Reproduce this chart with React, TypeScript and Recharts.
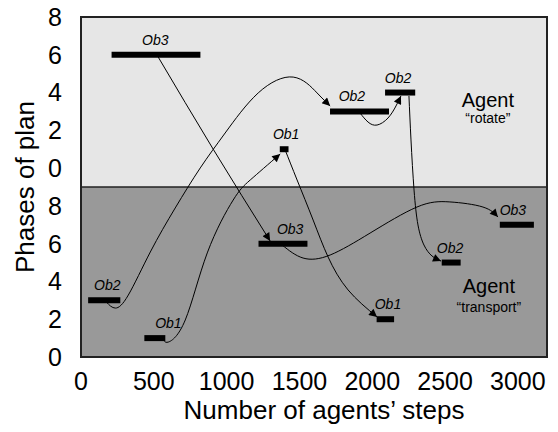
import React from "react";
import {
  ComposedChart,
  Line,
  Scatter,
  XAxis,
  YAxis,
  CartesianGrid,
  ReferenceArea,
  ReferenceLine,
} from "recharts";

// both agents share one stacked y scale: "transport" sits on 0..9,
// "rotate" is lifted by 10 so its 0..8 lands on 10..18
const ROTATE_SHIFT = 10;

const xTicks = [0, 500, 1000, 1500, 2000, 2500, 3000];
const yTicks = [0, 2, 4, 6, 8, 10, 12, 14, 16, 18];

const rotatePhases = [
  { name: "Ob3", start: 210, end: 820, phase: 6, labelAt: 510 },
  { name: "Ob1", start: 1365, end: 1425, phase: 1, labelAt: 1409 },
  { name: "Ob2", start: 1710, end: 2115, phase: 3, labelAt: 1860 },
  { name: "Ob2", start: 2088, end: 2295, phase: 4, labelAt: 2177 },
];

const transportPhases = [
  { name: "Ob2", start: 49, end: 270, phase: 3, labelAt: 181 },
  { name: "Ob1", start: 435, end: 579, phase: 1, labelAt: 600 },
  { name: "Ob3", start: 1219, end: 1555, phase: 6, labelAt: 1436 },
  { name: "Ob1", start: 2030, end: 2150, phase: 2, labelAt: 2108 },
  { name: "Ob2", start: 2477, end: 2607, phase: 5, labelAt: 2534 },
  { name: "Ob3", start: 2876, end: 3110, phase: 7, labelAt: 2966 },
];

// hand-over arrows, in stacked y units
const ob3Down = [
  { x: 524, y: 15.96 },
  { x: 908, y: 11.0 },
  { x: 1299, y: 6.14 },
];
const ob2Up = [
  { x: 174, y: 2.91 },
  { x: 236, y: 2.59 },
  { x: 325, y: 3.28 },
  { x: 476, y: 5.56 },
  { x: 647, y: 7.89 },
  { x: 819, y: 10.01 },
  { x: 990, y: 11.86 },
  { x: 1217, y: 13.98 },
  { x: 1457, y: 14.82 },
  { x: 1621, y: 13.98 },
  { x: 1711, y: 13.29 },
];
const ob1Up = [
  { x: 565, y: 1.01 },
  { x: 599, y: 0.79 },
  { x: 716, y: 1.96 },
  { x: 867, y: 5.51 },
  { x: 1045, y: 8.31 },
  { x: 1162, y: 9.37 },
  { x: 1368, y: 10.75 },
];
const ob1Down = [
  { x: 1402, y: 10.96 },
  { x: 1484, y: 9.37 },
  { x: 1594, y: 7.25 },
  { x: 1697, y: 5.29 },
  { x: 1834, y: 3.55 },
  { x: 2033, y: 2.12 },
];
const ob2Step = [
  { x: 1916, y: 12.92 },
  { x: 1971, y: 12.44 },
  { x: 2033, y: 12.28 },
  { x: 2108, y: 12.65 },
  { x: 2163, y: 13.29 },
  { x: 2197, y: 13.82 },
];
const ob2Down = [
  { x: 2252, y: 13.82 },
  { x: 2266, y: 11.49 },
  { x: 2287, y: 8.84 },
  { x: 2314, y: 6.99 },
  { x: 2355, y: 5.93 },
  { x: 2410, y: 5.35 },
  { x: 2472, y: 5.08 },
];
const ob3Step = [
  { x: 1381, y: 5.93 },
  { x: 1525, y: 5.24 },
  { x: 1711, y: 5.4 },
  { x: 1985, y: 6.56 },
  { x: 2307, y: 7.94 },
  { x: 2533, y: 8.21 },
  { x: 2760, y: 7.94 },
  { x: 2863, y: 7.41 },
];

const agentNotes = [
  { x: 2794, y: 13.6, text: "Agent", big: true },
  { x: 2794, y: 12.65, text: "\u201crotate\u201d", big: false },
  { x: 2801, y: 3.76, text: "Agent", big: true },
  { x: 2801, y: 2.65, text: "\u201ctransport\u201d", big: false },
];

const FONT = "'Liberation Sans', Arial, sans-serif";

const phases = [
  ...rotatePhases.map((p) => ({ ...p, y: p.phase + ROTATE_SHIFT })),
  ...transportPhases.map((p) => ({ ...p, y: p.phase })),
];
const phaseLabels = phases.map((p) => ({ x: p.labelAt, y: p.y, name: p.name }));
const arrows = [ob3Down, ob2Up, ob1Up, ob1Down, ob2Step, ob2Down, ob3Step];

const PhaseLabel = (props: any) => (
  <text
    x={props.cx}
    y={props.cy - 15}
    textAnchor="middle"
    dominantBaseline="central"
    fontStyle="italic"
    fontSize={14}
    fontFamily={FONT}
    fill="#000"
  >
    {props.payload.name}
  </text>
);

const AgentNote = (props: any) => (
  <text
    x={props.cx}
    y={props.cy}
    textAnchor="middle"
    dominantBaseline="central"
    fontSize={props.payload.big ? 20 : 14}
    fontFamily={FONT}
    fill="#000"
  >
    {props.payload.text}
  </text>
);

export default function App() {
  return (
    <div style={{ position: "absolute", left: 0, top: 0 }}>
      <svg width={0} height={0} style={{ position: "absolute" }}>
        <defs>
          <marker
            id="arrowHead"
            viewBox="0 0 10 10"
            refX={10}
            refY={5}
            markerWidth={12}
            markerHeight={8}
            markerUnits="userSpaceOnUse"
            orient="auto"
          >
            <path d="M0,0 L10,5 L0,10 z" fill="#000" />
          </marker>
        </defs>
      </svg>
      <ComposedChart
        width={558}
        height={432}
        margin={{ top: 17, right: 11, bottom: 0, left: 0 }}
      >
        <ReferenceArea x1={0} x2={3200} y1={0} y2={9} fill="#999999" fillOpacity={1} stroke="none" />
        <ReferenceArea x1={0} x2={3200} y1={9} y2={18} fill="#e6e6e6" fillOpacity={1} stroke="none" />
        <CartesianGrid stroke="#333" strokeDasharray="1 2" />
        <XAxis
          type="number"
          dataKey="x"
          domain={[0, 3200]}
          ticks={xTicks}
          height={75}
          axisLine={false}
          tickLine={false}
          tickSize={8}
          tickMargin={7}
          tick={{ fontSize: 25, fill: "#000", fontFamily: FONT }}
          label={{
            content: () => (
              <text
                x={324}
                y={419}
                textAnchor="middle"
                fontSize={26}
                fontFamily={FONT}
                fill="#000"
              >
                Number of agents’ steps
              </text>
            ),
          }}
        />
        <YAxis
          type="number"
          dataKey="y"
          domain={[0, 18]}
          ticks={yTicks}
          width={81}
          axisLine={false}
          tickLine={false}
          tickSize={8}
          tickMargin={11}
          tickFormatter={(v: number) => String(v >= ROTATE_SHIFT ? v - ROTATE_SHIFT : v)}
          tick={{ fontSize: 25, fill: "#000", fontFamily: FONT }}
          label={{
            content: (p: any) => {
              const cy = p.viewBox.y + p.viewBox.height / 2;
              return (
                <text
                  x={25}
                  y={cy}
                  transform={`rotate(-90 25 ${cy})`}
                  textAnchor="middle"
                  dominantBaseline="central"
                  fontSize={26}
                  fontFamily={FONT}
                  fill="#000"
                >
                  Phases of plan
                </text>
              );
            },
          }}
        />
        <ReferenceLine y={9} stroke="#222" strokeWidth={1.5} />
        {arrows.map((pts, i) => (
          <Line
            key={`arrow-${i}`}
            data={pts}
            dataKey="y"
            type="natural"
            stroke="#000"
            strokeWidth={1}
            dot={false}
            activeDot={false}
            markerEnd="url(#arrowHead)"
            isAnimationActive={false}
          />
        ))}
        {phases.map((p, i) => (
          <Line
            key={`phase-${i}`}
            data={[
              { x: p.start, y: p.y },
              { x: p.end, y: p.y },
            ]}
            dataKey="y"
            type="linear"
            stroke="#000"
            strokeWidth={6}
            strokeLinecap="butt"
            dot={false}
            activeDot={false}
            isAnimationActive={false}
          />
        ))}
        <Scatter data={phaseLabels} dataKey="y" shape={PhaseLabel} isAnimationActive={false} />
        <Scatter data={agentNotes} dataKey="y" shape={AgentNote} isAnimationActive={false} />
        <ReferenceArea
          x1={0}
          x2={3200}
          y1={0}
          y2={18}
          fill="none"
          stroke="#222"
          strokeWidth={2}
        />
      </ComposedChart>
    </div>
  );
}
